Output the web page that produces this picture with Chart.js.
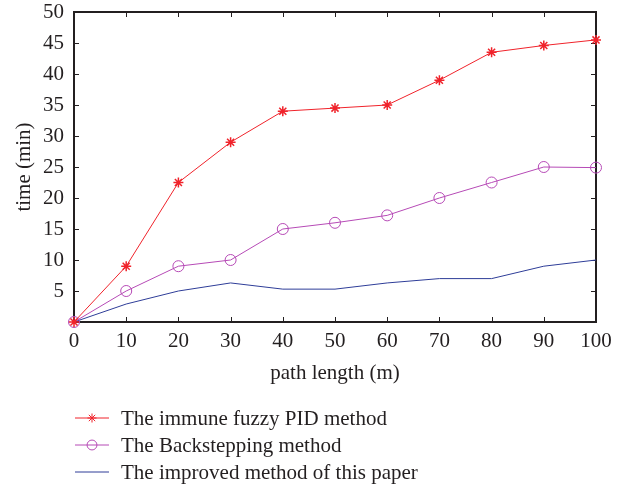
<!DOCTYPE html>
<html>
<head>
<meta charset="utf-8">
<script src="https://cdn.jsdelivr.net/npm/chart.js@4/dist/chart.umd.min.js"></script>
<style>
    html, body { margin: 0; padding: 0; background: #ffffff; }
    #chartBox { width: 626px; height: 487px; }
</style>
</head>
<body>
<div id="chartBox"><canvas id="timeChart"></canvas></div>
<script>
const pathLengths = [0, 10, 20, 30, 40, 50, 60, 70, 80, 90, 100];
const immuneFuzzyPid = [0, 9, 22.5, 29, 34, 34.5, 35, 39, 43.5, 44.6, 45.5];
const backstepping = [0, 5, 9, 10, 15, 16, 17.2, 20, 22.5, 25, 24.9];
const improvedMethod = [0, 2.9, 5, 6.3, 5.3, 5.3, 6.3, 7, 7, 9, 10];
const seriesNames = ["The immune fuzzy PID method", "The Backstepping method", "The improved method of this paper"];
const yTicks = [5, 10, 15, 20, 25, 30, 35, 40, 45, 50];

const FONT = "'Liberation Serif', 'DejaVu Serif', serif";
const INK = "#231f20";
const FONT_SIZE = 21;

// box round the plot with tick marks pointing inwards
const frameTicks = {
    id: 'frameTicks',
    beforeDatasetsDraw(chart) {
        const ctx = chart.ctx;
        const area = chart.chartArea;
        const xs = chart.scales.x;
        const ys = chart.scales.y;
        ctx.save();
        ctx.strokeStyle = INK;
        ctx.lineWidth = 1;
        ctx.beginPath();
        for (const v of pathLengths) {
            const px = Math.round(xs.getPixelForValue(v)) + 0.5;
            ctx.moveTo(px, area.bottom);
            ctx.lineTo(px, area.bottom - 5);
            ctx.moveTo(px, area.top);
            ctx.lineTo(px, area.top + 5);
        }
        for (const v of yTicks) {
            const py = Math.round(ys.getPixelForValue(v)) + 0.5;
            ctx.moveTo(area.left, py);
            ctx.lineTo(area.left + 5, py);
            ctx.moveTo(area.right, py);
            ctx.lineTo(area.right - 5, py);
        }
        ctx.stroke();
        ctx.lineWidth = 2;
        ctx.strokeRect(area.left, area.top, area.right - area.left, area.bottom - area.top);
        ctx.restore();
    }
};

// legend stacked in rows under the x axis title
const stackedLegend = {
    id: 'stackedLegend',
    afterDraw(chart) {
        const ctx = chart.ctx;
        const rows = [418, 445, 472];
        ctx.save();
        chart.data.datasets.forEach(function(ds, i) {
            const y = rows[i];
            ctx.strokeStyle = ds.borderColor;
            ctx.fillStyle = ds.backgroundColor;
            ctx.lineWidth = 1;
            ctx.beginPath();
            ctx.moveTo(75, y);
            ctx.lineTo(109, y);
            ctx.stroke();
            if (ds.pointStyle && ds.pointRadius > 0) {
                Chart.helpers.drawPoint(ctx, {
                    pointStyle: ds.pointStyle,
                    radius: ds.pointRadius * 0.9,
                    rotation: 0,
                    borderWidth: 1
                }, 92, y);
            }
            ctx.fillStyle = INK;
            ctx.font = FONT_SIZE + "px " + FONT;
            ctx.textBaseline = 'middle';
            ctx.textAlign = 'left';
            ctx.fillText(ds.label, 121, y + 1);
        });
        ctx.restore();
    }
};

new Chart(document.getElementById('timeChart').getContext('2d'), {
    type: 'line',
    data: {
        labels: pathLengths,
        datasets: [{
            label: seriesNames[0],
            data: immuneFuzzyPid,
            borderColor: "#f0232b",
            backgroundColor: "#f0232b",
            borderWidth: 1,
            pointStyle: 'star',
            pointRadius: 5,
            pointBorderWidth: 1.5,
            fill: false,
            clip: false,
            tension: 0
        }, {
            label: seriesNames[1],
            data: backstepping,
            borderColor: "#b64ab6",
            backgroundColor: "rgba(0,0,0,0)",
            borderWidth: 1,
            pointStyle: 'circle',
            pointRadius: 5.5,
            pointBorderWidth: 1,
            fill: false,
            clip: false,
            tension: 0
        }, {
            label: seriesNames[2],
            data: improvedMethod,
            borderColor: "#2e3d98",
            backgroundColor: "#2e3d98",
            borderWidth: 1,
            pointRadius: 0,
            fill: false,
            clip: false,
            tension: 0
        }]
    },
    options: {
        responsive: true,
        maintainAspectRatio: false,
        animation: false,
        layout: {
            padding: { left: 0, right: 30, top: 12, bottom: 99 }
        },
        plugins: {
            legend: { display: false },
            tooltip: { enabled: false }
        },
        scales: {
            x: {
                type: 'linear',
                min: 0,
                max: 100,
                afterFit: function(scale) {
                    scale.height = 66;
                    scale.paddingLeft = 0;
                    scale.paddingRight = 0;
                },
                afterBuildTicks: function(scale) {
                    scale.ticks = pathLengths.map(v => ({ value: v }));
                },
                grid: { display: false, drawTicks: false },
                border: { display: false },
                ticks: {
                    color: INK,
                    padding: 7,
                    maxRotation: 0,
                    font: { family: FONT, size: FONT_SIZE }
                },
                title: {
                    display: true,
                    text: 'path length (m)',
                    color: INK,
                    padding: { top: 4, bottom: 2 },
                    font: { family: FONT, size: FONT_SIZE }
                }
            },
            y: {
                min: 0,
                max: 50,
                afterFit: function(scale) {
                    scale.width = 74;
                    scale.paddingTop = 0;
                    scale.paddingBottom = 0;
                },
                afterBuildTicks: function(scale) {
                    scale.ticks = yTicks.map(v => ({ value: v }));
                },
                grid: { display: false, drawTicks: false },
                border: { display: false },
                ticks: {
                    color: INK,
                    padding: 10,
                    font: { family: FONT, size: FONT_SIZE }
                },
                title: {
                    display: true,
                    text: 'time (min)',
                    color: INK,
                    padding: { top: 12, bottom: 4 },
                    font: { family: FONT, size: FONT_SIZE }
                }
            }
        }
    },
    plugins: [frameTicks, stackedLegend]
});
</script>
</body>
</html>
